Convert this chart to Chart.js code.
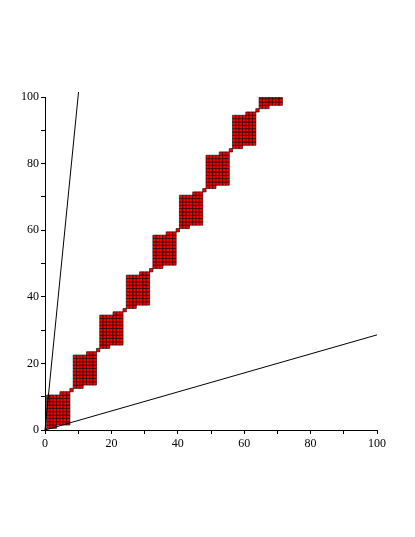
<!DOCTYPE html>
<html>
<head>
<meta charset="utf-8">
<script src="https://cdn.jsdelivr.net/npm/chart.js@4"></script>
<style>
  html, body { margin: 0; padding: 0; background: #fff; }
  #wrap { width: 415px; height: 537px; }
</style>
</head>
<body>
<div id="wrap"><canvas id="plot" width="415" height="537"></canvas></div>
<script>
// lattice points: one column run per x value
const colX = [
  0, 1, 2, 3, 4, 5, 6, 7,
  8, 9, 10, 11, 12, 13, 14, 15,
  16, 17, 18, 19, 20, 21, 22, 23,
  24, 25, 26, 27, 28, 29, 30, 31,
  32, 33, 34, 35, 36, 37, 38, 39,
  40, 41, 42, 43, 44, 45, 46, 47,
  48, 49, 50, 51, 52, 53, 54, 55,
  56, 57, 58, 59, 60, 61, 62, 63,
  64, 65, 66, 67, 68, 69, 70, 71
];
const colYMin = [
  0, 1, 1, 1, 2, 2, 2, 2,
  12, 13, 13, 13, 14, 14, 14, 14,
  24, 25, 25, 25, 26, 26, 26, 26,
  36, 37, 37, 37, 38, 38, 38, 38,
  48, 49, 49, 49, 50, 50, 50, 50,
  60, 61, 61, 61, 62, 62, 62, 62,
  72, 73, 73, 73, 74, 74, 74, 74,
  84, 85, 85, 85, 86, 86, 86, 86,
  96, 97, 97, 97, 98, 98, 98, 98
];
const colYMax = [
  0, 10, 10, 10, 10, 11, 11, 11,
  12, 22, 22, 22, 22, 23, 23, 23,
  24, 34, 34, 34, 34, 35, 35, 35,
  36, 46, 46, 46, 46, 47, 47, 47,
  48, 58, 58, 58, 58, 59, 59, 59,
  60, 70, 70, 70, 70, 71, 71, 71,
  72, 82, 82, 82, 82, 83, 83, 83,
  84, 94, 94, 94, 94, 95, 95, 95,
  96, 100, 100, 100, 100, 100, 100, 100
];

// the two boundary rays
const steepX = [0, 10.1];
const steepY = [0, 101.5];
const flatX = [0, 100];
const flatY = [0, 28.57];

const tickValues = [0, 20, 40, 60, 80, 100];

const points = [];
colX.forEach((x, i) => {
  for (let y = colYMin[i]; y <= colYMax[i]; y++) points.push({ x: x, y: y });
});
const toXY = (xs, ys) => xs.map((x, i) => ({ x: x, y: ys[i] }));

const labelTicks = function (value) {
  return tickValues.includes(value) ? String(value) : "";
};

const axisOpts = {
  min: 0,
  max: 100,
  grid: { display: true, drawOnChartArea: false, drawTicks: true, tickLength: 4, color: "#000", lineWidth: 1 },
  border: { display: true, color: "#000", width: 1 },
  ticks: {
    stepSize: 10,
    autoSkip: false,
    maxRotation: 0,
    color: "#000",
    font: { family: "'Liberation Serif', 'DejaVu Serif', serif", size: 12 },
    callback: labelTicks,
  },
};

new Chart(document.getElementById("plot"), {
  type: "scatter",
  data: {
    datasets: [
      {
        data: toXY(steepX, steepY),
        showLine: true,
        borderColor: "#000",
        borderWidth: 1,
        pointRadius: 0,
        clip: false,
      },
      {
        data: toXY(flatX, flatY),
        showLine: true,
        borderColor: "#000",
        borderWidth: 1,
        pointRadius: 0,
      },
      {
        data: points,
        pointStyle: "rect",
        pointRadius: 2.4,
        pointBackgroundColor: "#ff0000",
        pointBorderColor: "#000",
        pointBorderWidth: 0.6,
      },
    ],
  },
  options: {
    responsive: false,
    animation: false,
    layout: { padding: { left: 0, top: 97, right: 38, bottom: 87 } },
    plugins: { legend: { display: false }, tooltip: { enabled: false } },
    scales: {
      x: Object.assign({}, axisOpts, {
        ticks: Object.assign({}, axisOpts.ticks, { padding: 3 }),
        afterFit: (scale) => { scale.height = 20; },
      }),
      y: Object.assign({}, axisOpts, {
        ticks: Object.assign({}, axisOpts.ticks, { padding: 2 }),
        afterFit: (scale) => { scale.width = 45; },
      }),
    },
  },
});
</script>
</body>
</html>
